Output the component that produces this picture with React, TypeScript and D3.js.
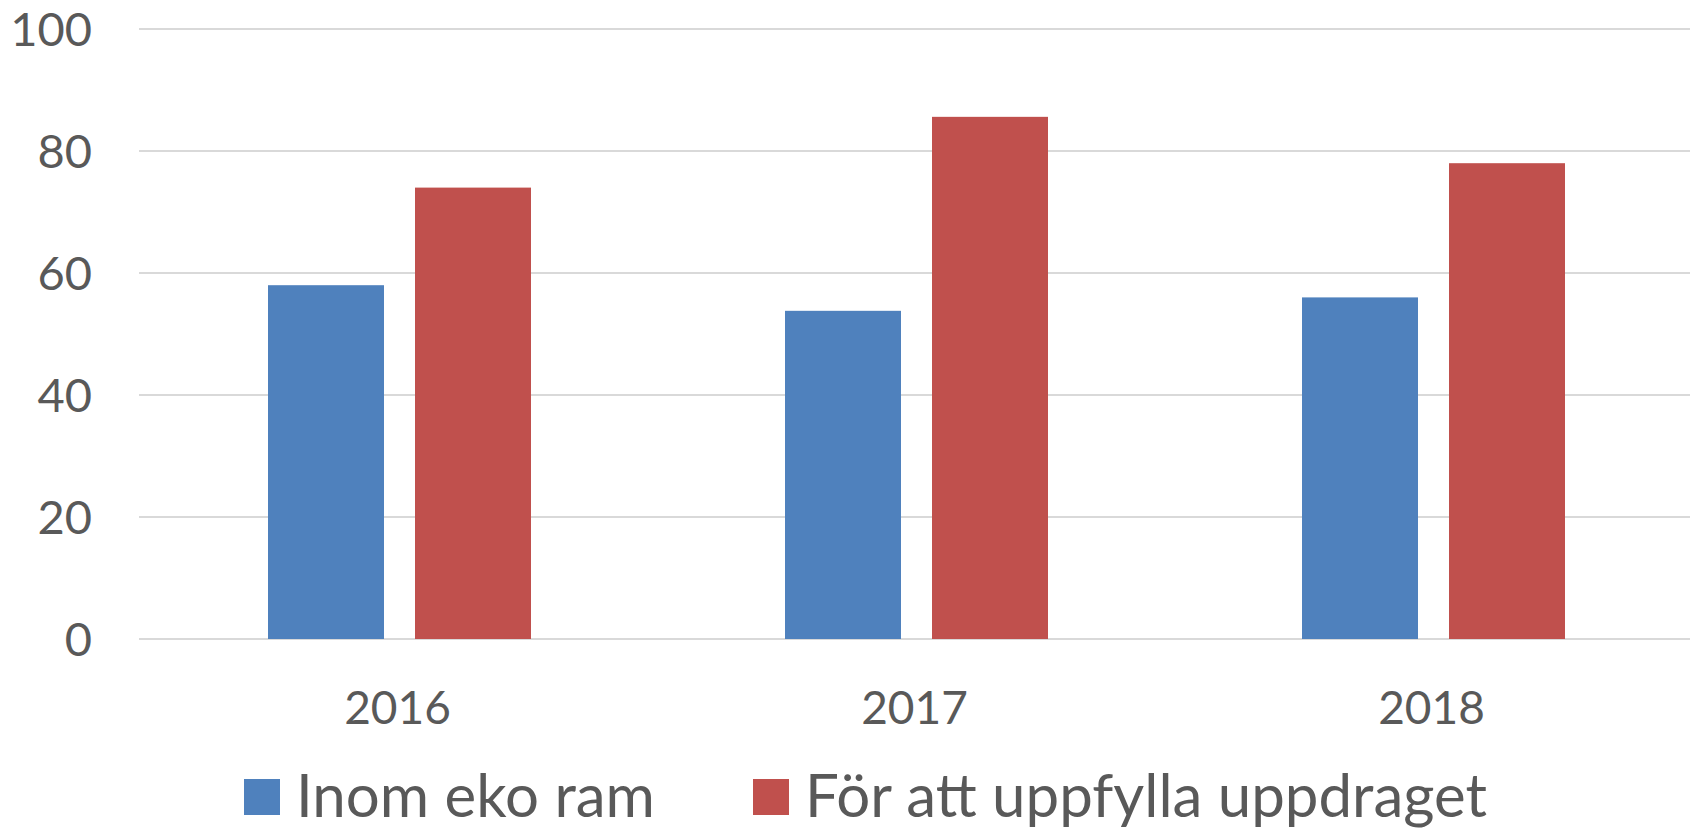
import { useEffect, useRef } from "react";
import * as d3 from "d3";

const years = ["2016", "2017", "2018"];
const seriesNames = ["Inom eko ram", "För att uppfylla uppdraget"];
const inomEkoRam = [58, 53.8, 56];
const forUppdraget = [74, 85.6, 78];
const yTicks = [0, 20, 40, 60, 80, 100];
const colors = ["#4F81BD", "#C0504D"];

export default function App() {
  const svgRef = useRef<SVGSVGElement>(null);

  useEffect(() => {
    const root = d3.select(svgRef.current);
    root.selectAll("*").remove();

    const width = 1700, height = 832;
    const left = 139, right = 1690, top = 29, bottom = 639;
    const font = "Lato, 'Open Sans', sans-serif";

    root.attr("width", width).attr("height", height);

    const x0 = d3.scaleBand().domain(years).range([left, right]).padding(0);
    const y = d3.scaleLinear().domain([0, 100]).range([bottom, top]);

    // gridlines
    root.append("g")
      .selectAll("line")
      .data(yTicks)
      .enter()
      .append("line")
      .attr("x1", left)
      .attr("x2", right)
      .attr("y1", d => y(d))
      .attr("y2", d => y(d))
      .attr("stroke", "#D9D9D9")
      .attr("stroke-width", 2);

    // y labels
    root.append("g")
      .selectAll("text")
      .data(yTicks)
      .enter()
      .append("text")
      .attr("x", 92)
      .attr("y", d => y(d))
      .attr("dy", "0.36em")
      .attr("text-anchor", "end")
      .style("font-family", font)
      .style("font-size", "47px")
      .style("fill", "#595959")
      .text(d => d);

    const rows = years.map((yr, i) => ({ year: yr, values: [inomEkoRam[i], forUppdraget[i]] }));

    const groups = root.append("g")
      .selectAll("g")
      .data(rows)
      .enter()
      .append("g");

    groups.each(function (row) {
      const cx = (x0(row.year) ?? 0) + x0.bandwidth() / 2 + 2;
      const x1 = d3.scaleBand<number>()
        .domain([0, 1])
        .range([cx - 131.5, cx + 131.5])
        .paddingInner(0.211)
        .paddingOuter(0);
      d3.select(this)
        .selectAll("rect")
        .data(row.values)
        .enter()
        .append("rect")
        .attr("x", (d, i) => x1(i) ?? 0)
        .attr("width", x1.bandwidth())
        .attr("y", d => y(d))
        .attr("height", d => y(0) - y(d))
        .attr("fill", (d, i) => colors[i]);
    });

    // x labels
    root.append("g")
      .selectAll("text")
      .data(years)
      .enter()
      .append("text")
      .attr("x", d => (x0(d) ?? 0) + x0.bandwidth() / 2)
      .attr("y", 724)
      .attr("text-anchor", "middle")
      .style("font-family", font)
      .style("font-size", "46px")
      .style("fill", "#595959")
      .text(d => d);

    // legend
    const legendX = [244, 753];
    const legend = root.append("g")
      .selectAll("g")
      .data(seriesNames)
      .enter()
      .append("g")
      .attr("transform", (d, i) => `translate(${legendX[i]}, 779)`);

    legend.append("rect")
      .attr("width", 36)
      .attr("height", 36)
      .attr("fill", (d, i) => colors[i]);

    legend.append("text")
      .attr("x", 52)
      .attr("y", 38)
      .style("font-family", font)
      .style("font-size", "60px")
      .style("fill", "#595959")
      .text(d => d);
  }, []);

  return <svg ref={svgRef} style={{ position: "absolute", left: 0, top: 0 }}></svg>;
}
